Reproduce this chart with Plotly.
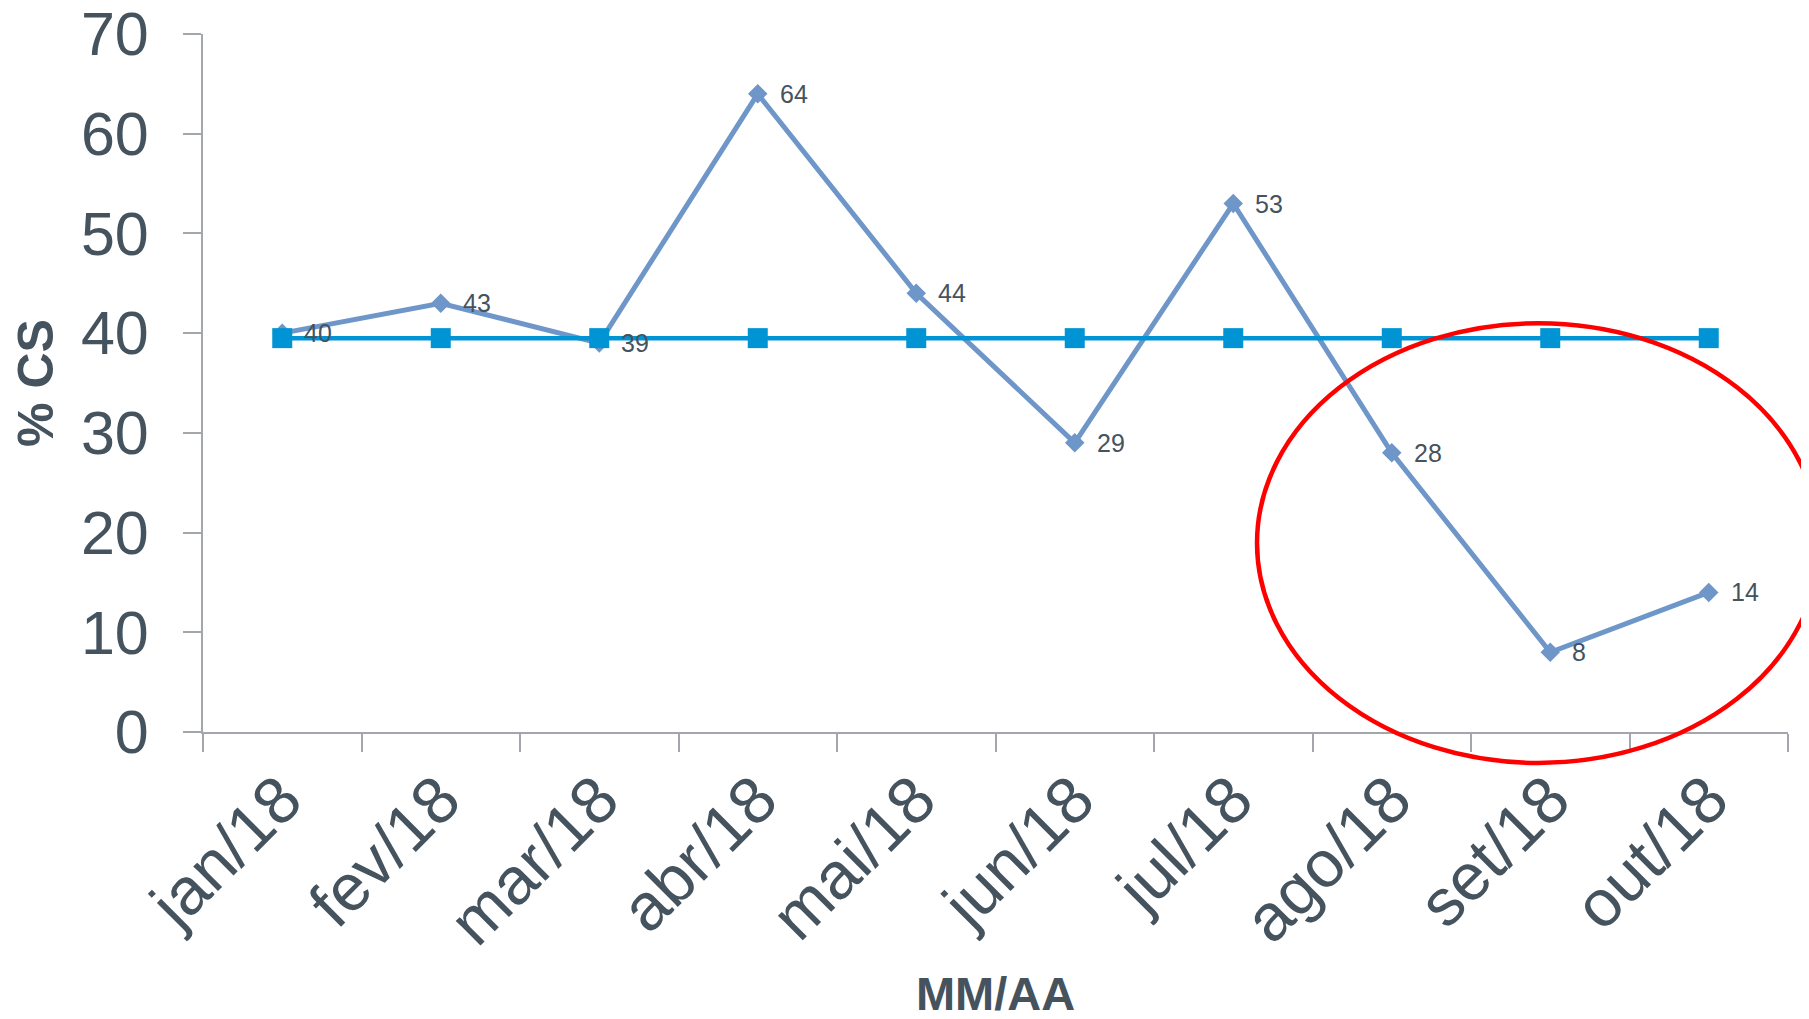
import plotly.graph_objects as go

months = ["jan/18", "fev/18", "mar/18", "abr/18", "mai/18", "jun/18",
          "jul/18", "ago/18", "set/18", "out/18"]
pct_cs = [40, 43, 39, 64, 44, 29, 53, 28, 8, 14]
meta = [39.5] * 10

y_ticks = [0, 10, 20, 30, 40, 50, 60, 70]

# highlight ellipse (in data units)
ell_x0, ell_x1 = 6.15, 9.70
ell_y0, ell_y1 = -3.1, 41.0

X_RANGE = [-0.5, 9.5]
Y_RANGE = [0, 70]

TXT = "#45535E"
AX = "#A3A6AA"
FONT = "Liberation Sans, Arial, sans-serif"

fig = go.Figure()
fig.add_trace(go.Scatter(
    x=months, y=pct_cs, mode="lines+markers",
    line=dict(color="#6E96C8", width=5),
    marker=dict(symbol="diamond", size=15, color="#6E96C8"),
    showlegend=False, cliponaxis=False,
))
fig.add_trace(go.Scatter(
    x=months, y=meta, mode="lines+markers",
    line=dict(color="#0094D4", width=4.5),
    marker=dict(symbol="square", size=20, color="#0094D4"),
    showlegend=False, cliponaxis=False,
))

for m, v in zip(months, pct_cs):
    fig.add_annotation(x=m, y=v, text=str(v), showarrow=False,
                       xanchor="left", yanchor="middle", xshift=20,
                       font=dict(family=FONT, size=25, color=TXT))

def fx(v):
    return (v - X_RANGE[0]) / (X_RANGE[1] - X_RANGE[0])

def fy(v):
    return (v - Y_RANGE[0]) / (Y_RANGE[1] - Y_RANGE[0])

fig.add_shape(type="circle", xref="x domain", yref="y domain",
              x0=fx(ell_x0), x1=fx(ell_x1), y0=fy(ell_y0), y1=fy(ell_y1),
              line=dict(color="#FF0000", width=4.5), layer="above")

fig.update_layout(
    width=1809, height=1019,
    margin=dict(l=195, r=29, t=26, b=295, autoexpand=False),
    paper_bgcolor="white", plot_bgcolor="white",
    font=dict(family=FONT, color=TXT),
)
fig.update_xaxes(
    type="category", range=X_RANGE, tickson="boundaries", automargin=False,
    ticks="outside", ticklen=18, tickcolor=AX, tickwidth=2,
    showline=True, linecolor=AX, linewidth=2, showgrid=False,
    tickangle=-45, tickfont=dict(family=FONT, size=66, color=TXT),
    ticklabeloverflow="allow",
    title=dict(text="<b>MM/AA</b>", font=dict(family=FONT, size=47, color=TXT), standoff=19),
)
fig.update_yaxes(
    range=Y_RANGE, tickvals=y_ticks, ticks="outside", ticklen=18, automargin=False,
    tickcolor=AX, tickwidth=2, showline=True, linecolor=AX, linewidth=2,
    showgrid=False, zeroline=False, ticklabelstandoff=22,
    ticklabeloverflow="allow",
    tickfont=dict(family=FONT, size=61, color=TXT),
    title=dict(text="<b>% CS</b>", font=dict(family=FONT, size=50, color=TXT), standoff=17),
)

fig.write_html("out.html")
